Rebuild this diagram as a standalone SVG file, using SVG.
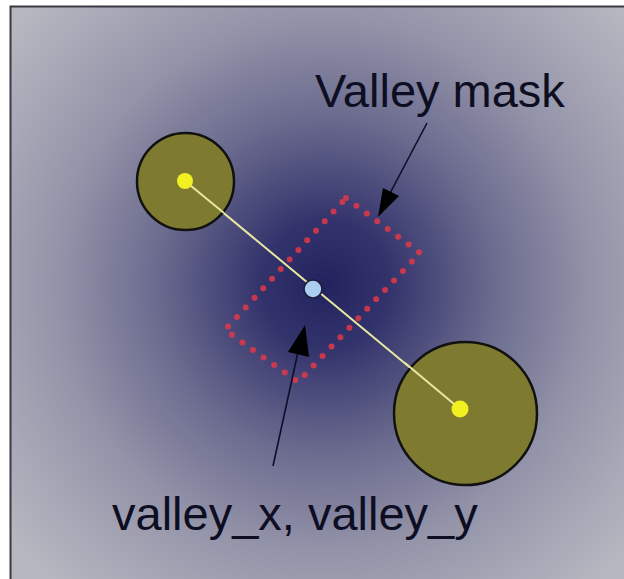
<svg xmlns="http://www.w3.org/2000/svg" width="624" height="579" viewBox="0 0 624 579">
  <style>
    .lbl { font-family: "Liberation Sans", Arial, sans-serif; font-size: 47px; fill: #0e0e22; }
    .disk { fill: #7e7b31; stroke: #111; stroke-width: 2.5; }
    .hub { fill: #f2f020; }
    .ptr { stroke: #0e0e2a; stroke-width: 1.6; fill: none; }
    .head { fill: #000; }
  </style>
  <defs>
    <radialGradient id="bg" gradientUnits="userSpaceOnUse" cx="325" cy="285" r="400">
      <stop offset="0" stop-color="#22225e"/>
      <stop offset="0.16" stop-color="#33336c"/>
      <stop offset="0.42" stop-color="#6b6b8f"/>
      <stop offset="0.68" stop-color="#9595aa"/>
      <stop offset="1" stop-color="#b6b6c0"/>
    </radialGradient>
  </defs>
  <rect x="0" y="0" width="624" height="579" fill="#ffffff"/>
  <rect x="10" y="6" width="614" height="573" fill="url(#bg)"/>
  <path d="M10.5 579 V6.5 H624" fill="none" stroke="#3a3a44" stroke-width="2"/>

  <g id="valley-mask">
    <polygon points="346,198 420,253 298,382 225,330" fill="none" stroke="#e23848" stroke-width="6" stroke-linecap="round" stroke-linejoin="round" stroke-dasharray="0 13" opacity="0.85"/>
  </g>

  <g id="connectors">
    <line x1="185" y1="181" x2="460" y2="409" stroke="#e8e8a2" stroke-width="2"/>
    <line class="ptr" x1="427" y1="123" x2="388" y2="197"/>
    <polygon class="head" points="378,217 399,196 383,188"/>
    <line class="ptr" x1="273" y1="466" x2="298" y2="352"/>
    <polygon class="head" points="305,325 309,357 288,352"/>
  </g>

  <g id="small-circle">
    <circle class="disk" cx="185.5" cy="181.5" r="48.5"/>
    <line x1="185" y1="181" x2="224" y2="213" stroke="#e8e8a2" stroke-width="2"/>
    <circle class="hub" cx="185" cy="181" r="8"/>
  </g>
  <g id="large-circle">
    <circle class="disk" cx="465.5" cy="413.5" r="71.5"/>
    <line x1="405" y1="363" x2="460" y2="409" stroke="#e8e8a2" stroke-width="2"/>
    <circle class="hub" cx="460" cy="409" r="8.5"/>
  </g>

  <g id="valley-point">
    <circle cx="313" cy="289" r="9" fill="#aacdf0" stroke="#1c1c3c" stroke-width="1.6"/>
  </g>

  <g id="label-valley-mask">
    <text class="lbl" x="315" y="107">Valley mask</text>
  </g>
  <g id="label-valley-xy">
    <text class="lbl" x="112" y="530">valley_x, valley_y</text>
  </g>
</svg>
